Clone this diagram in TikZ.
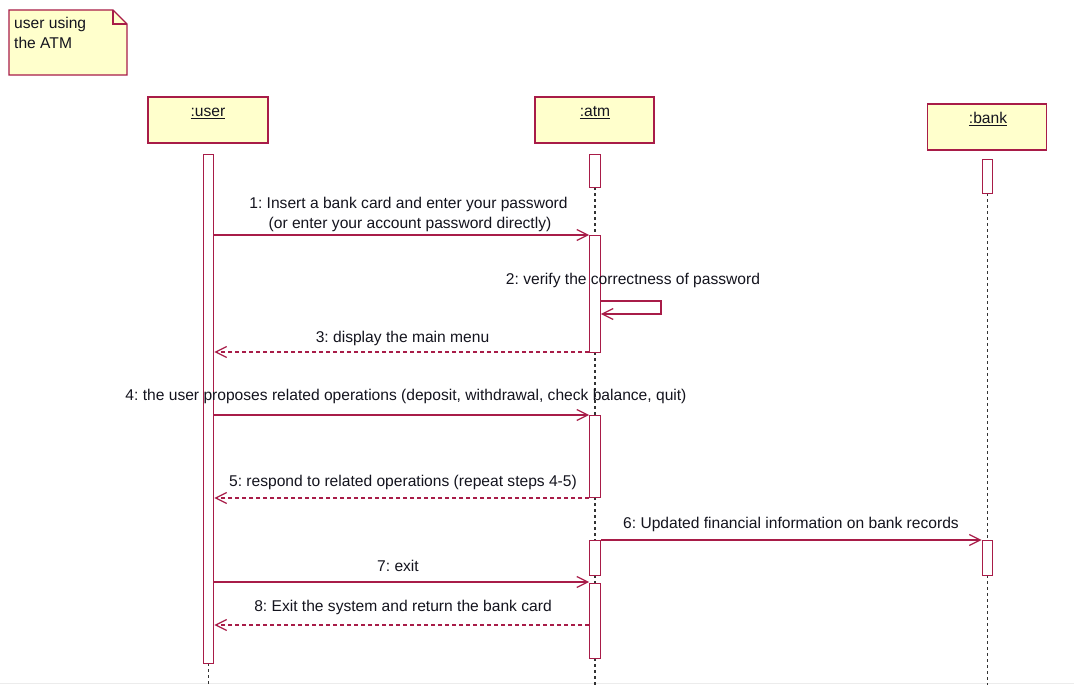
\documentclass[tikz,border=0pt]{standalone}
\usepackage{fontspec}
\setmainfont{Liberation Sans}
\usetikzlibrary{arrows.meta}
\definecolor{umlred}{RGB}{168,28,72}
\definecolor{umlfill}{RGB}{255,255,204}
\definecolor{txt}{RGB}{20,20,30}
\tikzset{
  obj/.style={draw=umlred, fill=umlfill, line width=1.3pt, minimum width=119pt, minimum height=46pt, inner sep=0pt},
  act/.style={draw=umlred, fill=white, line width=1.3pt, minimum width=10.5pt, inner sep=0pt},
  life/.style={black!80, line width=1.2pt, dash pattern=on 3pt off 3pt},
  msg/.style={umlred, line width=1.2pt, -{Straight Barb[length=11pt,width=11pt]}},
  ret/.style={msg, dash pattern=on 4pt off 3pt},
  lbl/.style={anchor=base, text=txt, inner sep=0pt, font=\fontsize{15.6pt}{18pt}\selectfont},
}
\begin{document}
\frenchspacing
\begin{tikzpicture}[x=1pt,y=-1pt]
\useasboundingbox (0,0) rectangle (1074,685);
\fill[white] (0,0) rectangle (1074,685);
\draw[gray!15, line width=1pt] (0,683.5) -- (1074,683.5);
% note
\draw[umlred, fill=umlfill, line width=1.3pt] (9,10) -- (113,10) -- (127,24) -- (127,75) -- (9,75) -- cycle;
\draw[umlred, line width=1.3pt] (113,10) -- (113,24) -- (127,24);
\node[lbl, anchor=base west] (n1) at (14,29) {user using};
\node[lbl, anchor=base west] (n2) at (14,49) {the ATM};
% objects
\node[obj, minimum width=120pt] (user) at (208,120) {};
\node[lbl] (userl) at (208,117) {\underline{:user}};
\node[obj] (atm) at (594.5,120) {};
\node[lbl] (atml) at (595,117) {\underline{:atm}};
\node[obj] (bank) at (987,127) {};
\node[lbl] (bankl) at (988,124) {\underline{:bank}};
% lifelines
\coordinate (ubot) at (208.5,685);
\coordinate (abot) at (595,685);
\coordinate (bbot) at (987.5,685);
\draw[life] (595,187) -- (595,235);
\draw[life] (595,352) -- (595,415);
\draw[life] (595,497) -- (595,540);
\draw[life] (595,575) -- (595,583);
\draw[life] (595,658) -- (abot);
\draw[life] (987.5,193) -- (987.5,540);
\draw[life] (987.5,575) -- (bbot);
\draw[life] (208.5,663) -- (ubot);
% activations
\node[act, minimum height=509pt, anchor=north] (ua) at (208.5,154) {};
\node[act, minimum height=33pt, anchor=north] (a1) at (595,154) {};
\node[act, minimum height=117pt, anchor=north] (a2) at (595,235) {};
\node[act, minimum height=82pt, anchor=north] (a3) at (595,415) {};
\node[act, minimum height=35pt, anchor=north] (a4) at (595,540) {};
\node[act, minimum height=75pt, anchor=north] (a5) at (595,583) {};
\node[act, minimum height=34pt, anchor=north] (b1) at (987.5,159) {};
\node[act, minimum height=35pt, anchor=north] (b2) at (987.5,540) {};
% message coordinates
\coordinate (m1) at (0,235);
\coordinate (m2a) at (0,301);
\coordinate (m2b) at (0,314);
\coordinate (m3) at (0,352);
\coordinate (m4) at (0,415);
\coordinate (m5) at (0,498);
\coordinate (m6) at (0,540);
\coordinate (m7) at (0,582);
\coordinate (m8) at (0,625);
\coordinate (loop) at (661,0);
% messages
\draw[msg] (ua.east |- m1) -- (a2.west |- m1);
\node[lbl] (l1a) at (408.5,208.5) {1: Insert a bank card and enter your password};
\node[lbl] (l1b) at (410,228.5) {(or enter your account password directly)};
\draw[msg] (a2.east |- m2a) -- (loop |- m2a) -- (loop |- m2b) -- (a2.east |- m2b);
\node[lbl] (l2) at (633,284.5) {2: verify the correctness of password};
\draw[ret] (a2.west |- m3) -- (ua.east |- m3);
\node[lbl] (l3) at (402.5,342.5) {3: display the main menu};
\draw[msg] (ua.east |- m4) -- (a3.west |- m4);
\node[lbl] (l4) at (406,400.5) {4: the user proposes related operations (deposit, withdrawal, check balance, quit)};
\draw[ret] (a3.west |- m5) -- (ua.east |- m5);
\node[lbl] (l5) at (403,486.5) {5: respond to related operations (repeat steps 4-5)};
\draw[msg] (a4.east |- m6) -- (b2.west |- m6);
\node[lbl] (l6) at (791,528.5) {6: Updated financial information on bank records};
\draw[msg] (ua.east |- m7) -- (a5.west |- m7);
\node[lbl] (l7) at (398,571.5) {7: exit};
\draw[ret] (a5.west |- m8) -- (ua.east |- m8);
\node[lbl] (l8) at (403,611.5) {8: Exit the system and return the bank card};
\end{tikzpicture}
\end{document}
